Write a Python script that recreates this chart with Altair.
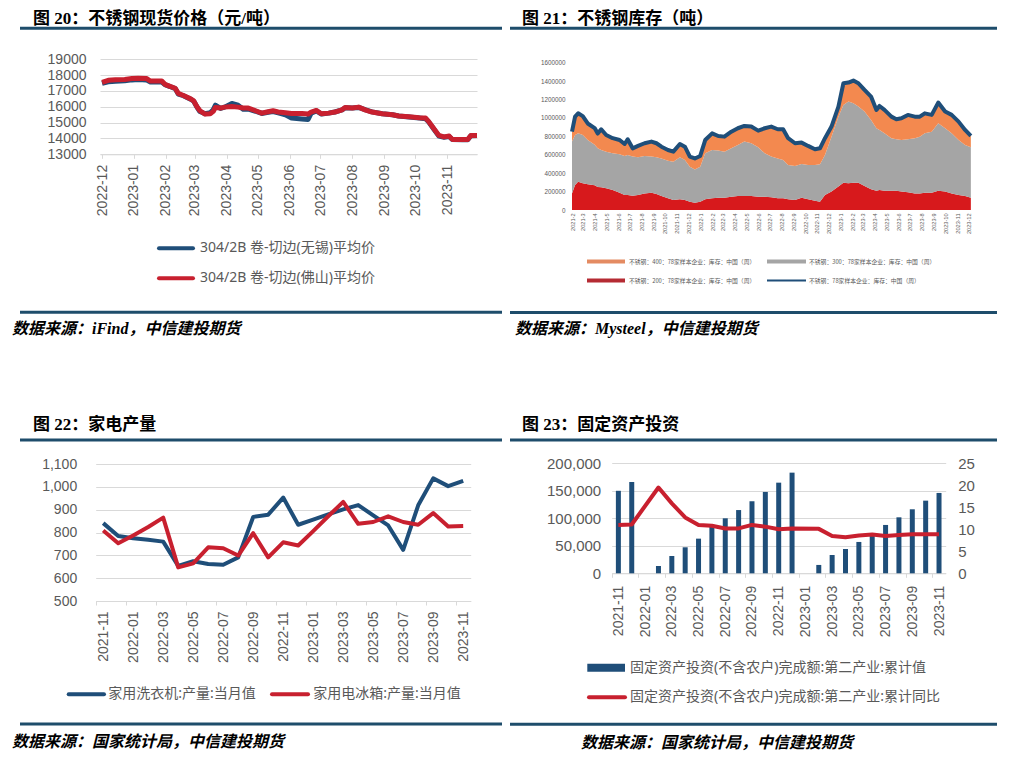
import altair as alt
import pandas as pd

# ---------------- 图20 不锈钢现货价格 ----------------
dates20 = ["2022-12-01", "2022-12-07", "2022-12-14", "2022-12-23", "2022-12-30", "2023-01-05",
           "2023-01-13", "2023-01-17", "2023-01-28", "2023-01-31", "2023-02-05", "2023-02-10",
           "2023-02-13", "2023-02-18", "2023-02-25", "2023-02-28", "2023-03-03", "2023-03-06",
           "2023-03-11", "2023-03-16", "2023-03-19", "2023-03-21", "2023-03-26", "2023-03-30",
           "2023-04-06", "2023-04-12", "2023-04-17", "2023-04-22", "2023-04-29", "2023-05-05",
           "2023-05-10", "2023-05-16", "2023-05-21", "2023-05-28", "2023-06-03", "2023-06-13",
           "2023-06-19", "2023-06-22", "2023-06-27", "2023-07-02", "2023-07-09", "2023-07-15",
           "2023-07-22", "2023-07-25", "2023-08-01", "2023-08-07", "2023-08-14", "2023-08-20",
           "2023-08-30", "2023-09-09", "2023-09-15", "2023-09-25", "2023-10-05", "2023-10-11",
           "2023-10-14", "2023-10-19", "2023-10-24", "2023-10-29", "2023-11-03", "2023-11-06",
           "2023-11-16", "2023-11-21", "2023-11-24", "2023-11-30"]
wuxi20 = [17480, 17580, 17620, 17640, 17700, 17720, 17700, 17560, 17560, 17400, 17280, 17150,
          16800, 16700, 16480, 16350, 16000, 15700, 15560, 15620, 15820, 16100, 15900, 15980,
          16210, 16100, 15850, 15850, 15720, 15580, 15640, 15700, 15620, 15500, 15290, 15230,
          15200, 15600, 15740, 15540, 15600, 15670, 15800, 15940, 15920, 15960, 15800, 15680,
          15560, 15500, 15420, 15360, 15290, 15250, 15050, 14600, 14150, 14080, 14120, 13930,
          13920, 13920, 14170, 14180]
foshan20 = [17540, 17670, 17710, 17730, 17790, 17810, 17790, 17625, 17625, 17420, 17290, 17170,
            16850, 16710, 16500, 16375, 16020, 15750, 15540, 15560, 15710, 15960, 15920, 15980,
            16020, 15980, 15920, 15920, 15750, 15600, 15670, 15750, 15670, 15620, 15580, 15580,
            15540, 15670, 15770, 15560, 15600, 15670, 15810, 15960, 15920, 15980, 15790, 15670,
            15560, 15500, 15420, 15375, 15310, 15290, 15080, 14625, 14190, 14100, 14150, 13940,
            13940, 13940, 14190, 14190]
ticks20 = ["2022-12", "2023-01", "2023-02", "2023-03", "2023-04", "2023-05", "2023-06",
           "2023-07", "2023-08", "2023-09", "2023-10", "2023-11"]
names20 = ["304/2B 卷-切边(无锡)平均价", "304/2B 卷-切边(佛山)平均价"]

# ---------------- 图21 不锈钢库存 ----------------
dates21 = ["2021-02-01", "2021-02-09", "2021-02-17", "2021-03-01", "2021-03-14", "2021-04-01",
           "2021-04-09", "2021-04-18", "2021-05-01", "2021-05-18", "2021-06-05", "2021-06-18",
           "2021-06-26", "2021-07-09", "2021-07-23", "2021-08-09", "2021-08-27", "2021-09-09",
           "2021-09-22", "2021-10-09", "2021-10-23", "2021-11-09", "2021-11-22", "2021-12-05",
           "2021-12-18", "2022-01-01", "2022-01-14", "2022-02-01", "2022-02-17", "2022-03-05",
           "2022-03-23", "2022-04-09", "2022-04-26", "2022-05-14", "2022-06-01", "2022-06-18",
           "2022-07-05", "2022-07-22", "2022-08-05", "2022-08-18", "2022-09-05", "2022-09-22",
           "2022-10-09", "2022-10-27", "2022-11-09", "2022-11-22", "2022-12-09", "2022-12-27",
           "2023-01-09", "2023-01-22", "2023-02-04", "2023-02-17", "2023-03-05", "2023-03-22",
           "2023-04-05", "2023-04-13", "2023-04-26", "2023-05-14", "2023-05-27", "2023-06-09",
           "2023-06-26", "2023-07-14", "2023-07-27", "2023-08-09", "2023-08-27", "2023-09-13",
           "2023-10-01", "2023-10-18", "2023-11-05", "2023-11-22", "2023-12-07"]
stock200 = [180000, 272000, 308000, 290000, 280000, 270000, 250000, 246000, 236000, 217000,
            188000, 163000, 163000, 156000, 163000, 180000, 188000, 174000, 152000, 127000,
            109000, 116000, 109000, 90000, 80000, 90000, 116000, 127000, 134000, 134000,
            145000, 152000, 152000, 152000, 145000, 145000, 138000, 127000, 127000, 116000,
            109000, 134000, 116000, 101000, 90000, 163000, 200000, 254000, 297000, 290000,
            297000, 297000, 261000, 225000, 210000, 217000, 210000, 210000, 210000, 200000,
            192000, 180000, 180000, 188000, 188000, 210000, 200000, 180000, 163000, 152000, 134000]
stock300 = [563000, 543000, 525000, 525000, 480000, 440000, 420000, 406000, 398000, 399000,
            417000, 424000, 435000, 424000, 409000, 407000, 392000, 398000, 408000, 409000,
            416000, 456000, 434000, 380000, 360000, 380000, 500000, 525000, 511000, 500000,
            525000, 554000, 591000, 573000, 536000, 471000, 442000, 433000, 416000, 373000,
            369000, 366000, 373000, 388000, 406000, 435000, 597000, 760000, 843000, 888000,
            863000, 826000, 808000, 753000, 678000, 653000, 623000, 569000, 558000, 560000,
            576000, 599000, 617000, 645000, 663000, 732000, 688000, 653000, 597000, 554000, 547000]
stock400 = [108000, 199000, 217000, 205000, 180000, 180000, 160000, 225000, 181000, 164000,
            155000, 130000, 170000, 90000, 124000, 138000, 163000, 153000, 128000, 116000,
            109000, 145000, 145000, 110000, 120000, 117000, 144000, 181000, 159000, 163000,
            181000, 182000, 170000, 181000, 181000, 272000, 326000, 317000, 334000, 291000,
            247000, 232000, 207000, 171000, 174000, 182000, 109000, 109000, 237000, 206000,
            246000, 254000, 235000, 254000, 199000, 260000, 254000, 235000, 218000, 236000,
            265000, 235000, 217000, 217000, 182000, 225000, 181000, 200000, 200000, 164000, 123000]
names21 = ["不锈钢：400：78家样本企业：库存：中国（周）", "不锈钢：300：78家样本企业：库存：中国（周）",
           "不锈钢：200：78家样本企业：库存：中国（周）", "不锈钢：78家样本企业：库存：中国（周）"]
ticks21 = [f"{y}-{m:02d}-01" for y in (2021, 2022, 2023) for m in range(1, 13)
           if not (y == 2021 and m == 1)]

# ---------------- 图22 家电产量 ----------------
months = ["2021-11", "2021-12", "2022-01", "2022-02", "2022-03", "2022-04", "2022-05", "2022-06",
          "2022-07", "2022-08", "2022-09", "2022-10", "2022-11", "2022-12", "2023-01", "2023-02",
          "2023-03", "2023-04", "2023-05", "2023-06", "2023-07", "2023-08", "2023-09", "2023-10",
          "2023-11"]
washer22 = [841, 785, 775, 768, 760, 654, 674, 662, 659, 691, 868, 878, 953, 834, 856, 879,
            901, 920, 875, 831, 724, 919, 1037, 1003, 1026]
fridge22 = [809, 753, 787, 824, 865, 647, 665, 735, 731, 699, 797, 691, 757, 743, 806, 871,
            934, 838, 846, 871, 846, 834, 885, 826, 828]
ticks22 = ["2021-11", "2022-01", "2022-03", "2022-05", "2022-07", "2022-09", "2022-11",
           "2023-01", "2023-03", "2023-05", "2023-07", "2023-09", "2023-11"]
names22 = ["家用洗衣机:产量:当月值", "家用电冰箱:产量:当月值"]

# ---------------- 图23 固定资产投资 ----------------
invest23 = [150000, 166000, None, 13300, 31500, 47300, 63000, 84800, 100000, 115000, 131000,
            147900, 164800, 183000, None, 15200, 33300, 44200, 57000, 69700, 87900, 101800,
            116400, 132100, 146100]
yoy23 = [11.0, 11.1, None, 19.5, 15.9, 12.7, 11.0, 10.8, 10.2, 10.2, 11.0, 10.6, 10.0, 10.2,
         None, 10.1, 8.5, 8.2, 8.6, 8.8, 8.5, 8.7, 8.9, 8.9, 8.9]
names23 = ["固定资产投资(不含农户)完成额:第二产业:累计值", "固定资产投资(不含农户)完成额:第二产业:累计同比"]

titles = ["图 20：不锈钢现货价格（元/吨）", "图 21：不锈钢库存（吨）", "图 22：家电产量", "图 23：固定资产投资"]
sources = ["数据来源：iFind，中信建投期货", "数据来源：Mysteel，中信建投期货",
           "数据来源：国家统计局，中信建投期货", "数据来源：国家统计局，中信建投期货"]

# ---------------- styles ----------------
BLUE = "#1f4e79"
RED = "#c8202f"
RULE = "#1e4d6b"
LABEL = "#595959"
GRID = "#d9d9d9"
ORANGE = "#f3894f"
GRAY = "#a5a5a5"
RED21 = "#d7191c"
NUM = "Liberation Sans"
SANS = "Noto Sans, Noto Sans CJK SC"
CJK = "Noto Sans CJK SC"
SERIF = "Liberation Serif, Noto Sans CJK SC"
TFS = 17     # title font size
SFS = 16     # source font size

# One canvas (view = page - 8px margin); each panel gets its own pixel box.
W, H = 1001, 743
TL = dict(x0=92, x1=469, y0=51.3, y1=146.3)
TR = dict(x0=564, x1=964, y0=54.7, y1=202)
BL = dict(x0=87.7, x1=462.7, y0=456, y1=593)
BR = dict(x0=603.7, x1=937.7, y0=455.3, y1=565.3)

ONE = pd.DataFrame({"k": [0]})


def utc(s):
    y, m, d = (int(p) for p in s.split("-"))
    return alt.DateTime(year=y, month=m, date=d, utc=True)


def hline(x1, x2, y, color=RULE, width=3, cap="butt"):
    return alt.Chart(ONE).mark_rule(color=color, strokeWidth=width, strokeCap=cap).encode(
        x=alt.value(x1), x2=alt.value(x2), y=alt.value(y))


def label(t, x, y, size, color="#000000", weight="normal", style="normal", font=SANS):
    return alt.Chart(ONE).mark_text(text=t, align="left", baseline="middle", fontSize=size,
                                    color=color, fontWeight=weight, fontStyle=style,
                                    font=font).encode(x=alt.value(x), y=alt.value(y))


def decor(title_xy, rule_x, rule_top, rule_bot, src_xy, title, src):
    return [
        label(title, title_xy[0], title_xy[1], TFS, weight="bold", font=SERIF),
        hline(rule_x[0], rule_x[1], rule_top),
        hline(rule_x[0], rule_x[1], rule_bot),
        label(src, src_xy[0], src_xy[1], SFS, weight="bold", style="italic", font=SERIF),
    ]


def xaxis(box, **kw):
    base = dict(orient="bottom", offset=box["y1"] - H, labelAngle=-90, labelColor=LABEL,
                labelFont=NUM, grid=False, labelFlush=False, labelOverlap=False, title=None)
    base.update(kw)
    return alt.Axis(**base)


def yaxis(box, side="left", **kw):
    off = -box["x0"] if side == "left" else box["x1"] - W
    base = dict(orient=side, offset=off, ticks=False, domain=False, labelColor=LABEL,
                labelFont=NUM, labelOverlap=False, title=None)
    base.update(kw)
    return alt.Axis(**base)


# ---------------- 图20 ----------------
df20 = pd.DataFrame({"date": dates20, "wx": wuxi20, "fs": foshan20})
x20 = alt.X("date:T",
            scale=alt.Scale(type="utc", domain=[utc("2022-11-29"), utc("2023-11-30")],
                            range=[TL["x0"], TL["x1"]]),
            axis=xaxis(TL, values=[utc(t + "-01") for t in ticks20], format="%Y-%m",
                       labelFontSize=14, labelPadding=6, tickSize=4, tickColor=GRID,
                       domainColor=GRID))
ys20 = alt.Scale(domain=[13000, 19000], nice=False, zero=False, range=[TL["y1"], TL["y0"]])
ya20 = yaxis(TL, values=list(range(13000, 19001, 1000)), format="d", grid=True, gridColor=GRID,
             labelPadding=14, labelFontSize=14)
blue20 = alt.Chart(df20).mark_line(color=BLUE, strokeWidth=5, strokeJoin="round").encode(
    x=x20, y=alt.Y("wx:Q", scale=ys20, axis=ya20))
red20 = alt.Chart(df20).mark_line(color=RED, strokeWidth=5, strokeJoin="round").encode(
    x=x20, y=alt.Y("fs:Q", scale=ys20, axis=ya20))
panel20 = alt.layer(blue20, red20)

# ---------------- 图21 ----------------
n21 = len(dates21)
long21 = pd.DataFrame({
    "date": dates21 * 3,
    "series": [names21[2]] * n21 + [names21[1]] * n21 + [names21[0]] * n21,
    "value": stock200 + stock300 + stock400,
    "ord": [0] * n21 + [1] * n21 + [2] * n21,
})
x21 = alt.X("date:T",
            scale=alt.Scale(type="utc", domain=[utc("2021-02-01"), utc("2023-12-10")],
                            range=[TR["x0"], TR["x1"]]),
            axis=xaxis(TR, values=[utc(t) for t in ticks21], format="%Y-%-m",
                       labelFontSize=5.6, labelPadding=3, ticks=False, domain=False))
ys21 = alt.Scale(domain=[0, 1600000], nice=False, range=[TR["y1"], TR["y0"]])
ya21 = yaxis(TR, values=list(range(0, 1600001, 200000)), format="d", labelFontSize=6.3,
             labelPadding=7, grid=False)
area21 = alt.Chart(long21).mark_area().encode(
    x=x21,
    y=alt.Y("value:Q", stack="zero", scale=ys21, axis=ya21),
    color=alt.Color("series:N", scale=alt.Scale(domain=names21[:3], range=[ORANGE, GRAY, RED21]),
                    legend=None),
    order=alt.Order("ord:Q", sort="ascending"),
)
total21 = alt.Chart(long21).transform_aggregate(
    total="sum(value)", groupby=["date"]
).mark_line(color=BLUE, strokeWidth=4, strokeJoin="round").encode(
    x=x21, y=alt.Y("total:Q", scale=ys21, axis=ya21))
panel21 = alt.layer(area21, total21)

# ---------------- 图22 ----------------
df22 = pd.DataFrame({"month": months, "washer": washer22, "fridge": fridge22})
step22 = (BL["x1"] - BL["x0"]) / len(months)
x22 = alt.X("month:O", scale=alt.Scale(domain=months, range=[BL["x0"], BL["x1"]]),
            axis=xaxis(BL, values=ticks22, tickOffset=-step22 / 2, labelOffset=step22 / 2,
                       labelFontSize=14, labelPadding=6, tickSize=4, tickColor=GRID,
                       domainColor=GRID))
ys22 = alt.Scale(domain=[500, 1100], nice=False, zero=False, range=[BL["y1"], BL["y0"]])
ya22 = yaxis(BL, values=list(range(500, 1101, 100)), format=",d", grid=True, gridColor=GRID,
             labelPadding=19, labelFontSize=14)
blue22 = alt.Chart(df22).mark_line(color=BLUE, strokeWidth=4, strokeJoin="round").encode(
    x=x22, y=alt.Y("washer:Q", scale=ys22, axis=ya22))
red22 = alt.Chart(df22).mark_line(color=RED, strokeWidth=4, strokeJoin="round").encode(
    x=x22, y=alt.Y("fridge:Q", scale=ys22, axis=ya22))
panel22 = alt.layer(blue22, red22)

# ---------------- 图23 ----------------
df23 = pd.DataFrame({"month": months, "inv": invest23, "yoy": yoy23})
step23 = (BR["x1"] - BR["x0"]) / len(months)
x23 = alt.X("month:O",
            scale=alt.Scale(domain=months, paddingInner=0.626, paddingOuter=0.313,
                            range=[BR["x0"], BR["x1"]]),
            axis=xaxis(BR, values=ticks22, tickOffset=-step23 / 2, labelOffset=step23 / 2,
                       labelFontSize=14, labelPadding=8, tickSize=4, tickColor=GRID,
                       domainColor=GRID))
bars23 = alt.Chart(df23.dropna(subset=["inv"])).mark_bar(color=BLUE).encode(
    x=x23,
    y=alt.Y("inv:Q", scale=alt.Scale(domain=[0, 200000], nice=False, range=[BR["y1"], BR["y0"]]),
            axis=yaxis(BR, values=[0, 50000, 100000, 150000, 200000], format=",d", grid=True,
                       gridColor=GRID, labelPadding=11, labelFontSize=15)))
line23 = alt.Chart(df23.dropna(subset=["yoy"])).mark_line(
    color=RED, strokeWidth=4, strokeJoin="round").encode(
    x=x23,
    y=alt.Y("yoy:Q", scale=alt.Scale(domain=[0, 25], nice=False, range=[BR["y1"], BR["y0"]]),
            axis=yaxis(BR, "right", values=[0, 5, 10, 15, 20, 25], format="d", grid=False,
                       labelPadding=12, labelFontSize=15)))
panel23 = alt.layer(bars23, line23).resolve_scale(y="independent")

# ---------------- titles, rules, sources, legends ----------------
deco = []
deco += decor((25, 10.5), (12, 494), 20.3, 304.3, (4, 321), titles[0], sources[0])
deco += decor((514, 10.5), (502, 989), 20.3, 304.5, (507, 321), titles[1], sources[1])
deco += decor((25, 417), (12, 494), 432, 716, (4, 734), titles[2], sources[2])
deco += decor((514, 417), (502, 989), 432, 716.3, (573, 734.5), titles[3], sources[3])

# 图20 legend
deco += [hline(151, 185, 240.3, BLUE, 4, "round"), label(names20[0], 192, 240.3, 14, LABEL),
         hline(151, 185, 270.3, RED, 4, "round"), label(names20[1], 192, 270.3, 14, LABEL)]
# 图21 legend
deco += [hline(579, 617, 253.5, "#e48b62", 4), label(names21[0], 621, 253.5, 5.8, LABEL, font=CJK),
         hline(759, 798, 253.5, GRAY, 4), label(names21[1], 801, 253.5, 5.8, LABEL, font=CJK),
         hline(579, 617, 272.5, "#b52b33", 4), label(names21[2], 621, 272.5, 5.8, LABEL, font=CJK),
         hline(759, 798, 272.5, BLUE, 2), label(names21[3], 801, 272.5, 5.8, LABEL, font=CJK)]
# 图22 legend
deco += [hline(60.7, 96, 686.3, BLUE, 4, "round"), label(names22[0], 100.3, 686.3, 14, LABEL),
         hline(264, 300, 686.3, RED, 4, "round"), label(names22[1], 305.3, 686.3, 14, LABEL)]
# 图23 legend
deco += [hline(579.3, 617, 659.7, BLUE, 8), label(names23[0], 622, 659.7, 14, LABEL),
         hline(581, 617, 689.3, RED, 4, "round"), label(names23[1], 622, 689.3, 14, LABEL)]

chart = alt.layer(panel20, panel21, panel22, panel23, *deco).resolve_scale(
    x="independent", y="independent"
).properties(
    width=W, height=H, padding=0, autosize=alt.AutoSizeParams(type="none"), background="white"
).configure_view(stroke=None)

chart.save("out.html", embed_options={"renderer": "svg", "actions": False})
